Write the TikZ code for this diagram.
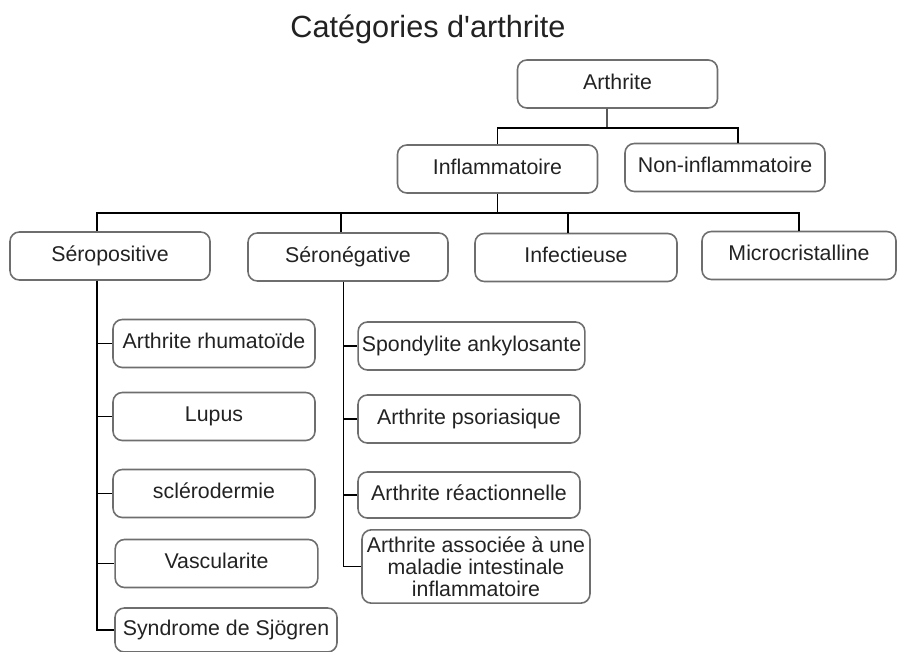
\documentclass[tikz,border=0pt]{standalone}
\usepackage{fontspec}
\setmainfont{Liberation Sans}
\newfontfamily\titrefont{Liberation Sans}

\tikzset{
  boite/.style={draw={rgb, 255:red, 110; green, 110; blue, 110}, line width=1.2pt, rounded corners=7pt,
    minimum width=150pt, minimum height=36pt, inner sep=1pt, align=center,
    text={rgb, 255:red, 34; green, 34; blue, 34}, font=\fontsize{16}{16.5}\selectfont},
  box/.style={boite, text height=11.5pt, text depth=3.5pt},
  link/.style={draw=black, line width=1pt}
}

\begin{document}
\begin{tikzpicture}[x=0.75pt,y=0.75pt,yscale=-1,xscale=1]
\useasboundingbox (0,0) rectangle (898,652);

% Text Node
\node[inner sep=0pt, text={rgb, 255:red, 34; green, 34; blue, 34}, font=\titrefont\fontsize{23}{23}\selectfont] (titre) at (428,29) {Catégories d'arthrite};

%Shape: Rounded Rect
\node[box] (arthrite) at (617.5,84) {Arthrite};
\node[box] (infl) at (497.5,169) {Inflammatoire};
\node[box] (noninfl) at (725,167.5) {Non-inflammatoire};

%Shape: Rounded Rect
\node[box] (seropos) at (110,256) {Séropositive};
\node[box] (seroneg) at (348,257) {Séronégative};
\node[box, minimum width=151.5pt] (infect) at (576,257.5) {Infectieuse};
\node[box, minimum width=145.5pt] (micro) at (799,255.5) {Microcristalline};

%Shape: Rounded Rect
\node[box, minimum width=151.5pt] (rhum) at (214,343.5) {Arthrite rhumatoïde};
\node[box, minimum width=151.5pt] (lupus) at (214,416.5) {Lupus};
\node[box, minimum width=151.5pt] (sclero) at (214,493.5) {sclérodermie};
\node[box, minimum width=152pt] (vascu) at (216.5,563.5) {Vascularite};
\node[box, minimum width=166.5pt, minimum height=33pt] (sjogren) at (226,630) {Syndrome de Sjögren};

%Shape: Rounded Rect
\node[box, minimum width=170pt] (spondy) at (471.5,346) {Spondylite ankylosante};
\node[box, minimum width=166.5pt] (psoria) at (469,419) {Arthrite psoriasique};
\node[box, minimum width=166.5pt, minimum height=34.5pt] (reac) at (469,495) {Arthrite réactionnelle};
\node[boite, minimum width=171pt, minimum height=55pt] (assoc) at (476,566.5) {Arthrite associée à une\\maladie intestinale\\inflammatoire};

%Straight Lines
\coordinate (busA) at (607,128);
\draw[link] ([xshift=-7.9pt]arthrite.south) -- (busA);
\draw[link] (infl.north) |- (busA) -| ([xshift=9.75pt]noninfl.north);

%Straight Lines
\coordinate (busI) at (497.5,213);
\draw[link] (infl.south) -- (busI);
\draw[link] ([xshift=-9.75pt]seropos.north) |- (busI) -| (micro.north);
\draw[link] ([xshift=-5.25pt]seroneg.north) |- (busI);
\draw[link] ([xshift=-6pt]infect.north) |- (busI);

%Straight Lines
\foreach \c in {rhum,lupus,sclero,vascu,sjogren}
  \draw[link] ([xshift=-9.75pt]seropos.south) |- (\c.west);
\foreach \c in {spondy,psoria,reac,assoc}
  \draw[link] ([xshift=-3.4pt]seroneg.south) |- (\c.west);

\end{tikzpicture}
\end{document}
